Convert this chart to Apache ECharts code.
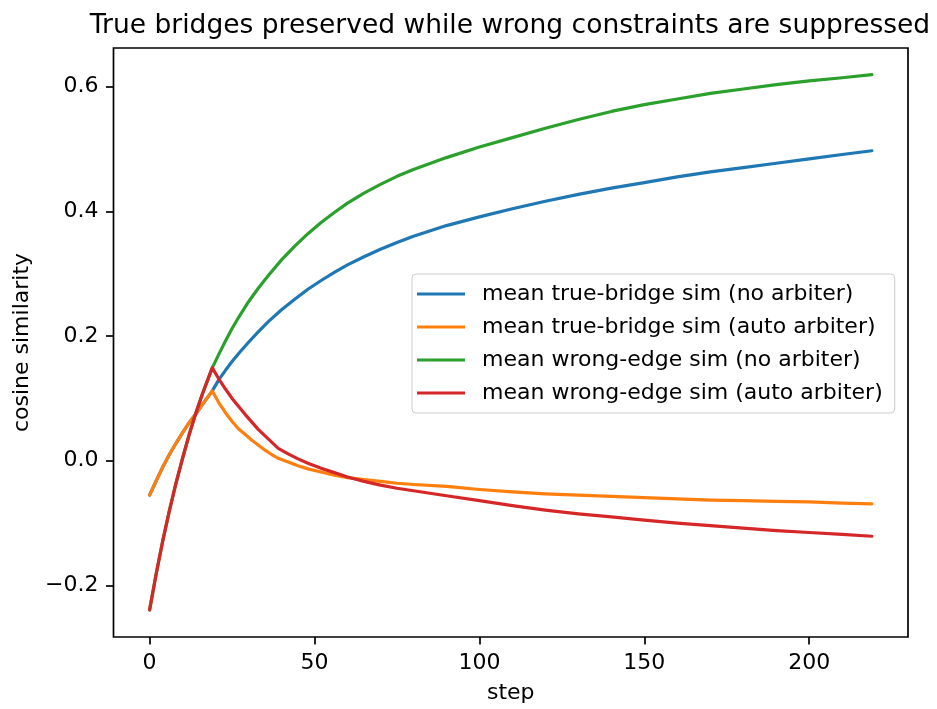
<!DOCTYPE html>
<html>
<head>
<meta charset="utf-8">
<script src="https://cdn.jsdelivr.net/npm/echarts@6/dist/echarts.min.js"></script>
<style>
  html, body { margin: 0; padding: 0; background: #fff; }
  #chart { width: 937px; height: 709px; }
</style>
</head>
<body>
<div id="chart"></div>
<script>
// Steps at which each curve is sampled
const risingSteps = [0, 2, 4, 6, 8, 10, 12, 14, 16, 19, 21, 23, 25, 27, 30, 33, 36, 40, 44, 48, 52, 56,
  60, 65, 70, 75, 80, 90, 100, 110, 120, 130, 140, 150, 160, 170, 180, 190, 200, 210, 219];
const arbiterSteps = [0, 2, 4, 6, 8, 10, 12, 14, 16, 19, 21, 23, 25, 27, 29, 31, 33, 35, 37, 39,
  42, 45, 48, 52, 56, 60, 65, 70, 75, 80, 90, 100, 110, 120, 130, 140, 150, 160, 170, 180, 190, 200, 210, 219];

// Cosine similarity per run
const trueBridgeNoArbiter = [-0.055, -0.032, -0.010, 0.010, 0.028, 0.045, 0.061, 0.075, 0.090, 0.112,
  0.130, 0.145, 0.159, 0.172, 0.190, 0.207, 0.223, 0.242, 0.259, 0.275, 0.289, 0.302,
  0.314, 0.327, 0.339, 0.350, 0.360, 0.377, 0.391, 0.404, 0.416, 0.427, 0.437, 0.446,
  0.455, 0.463, 0.470, 0.477, 0.484, 0.491, 0.497];
const wrongEdgeNoArbiter = [-0.239, -0.181, -0.128, -0.080, -0.036, 0.004, 0.042, 0.076, 0.107, 0.149,
  0.171, 0.192, 0.212, 0.230, 0.255, 0.277, 0.297, 0.322, 0.344, 0.364, 0.382, 0.398,
  0.413, 0.429, 0.443, 0.456, 0.467, 0.486, 0.503, 0.518, 0.533, 0.547, 0.560, 0.571,
  0.580, 0.589, 0.596, 0.603, 0.609, 0.614, 0.619];
const trueBridgeAuto = [-0.055, -0.032, -0.010, 0.010, 0.028, 0.045, 0.061, 0.075, 0.090, 0.112,
  0.093, 0.077, 0.063, 0.051, 0.042, 0.033, 0.025, 0.017, 0.010, 0.004,
  -0.002, -0.008, -0.013, -0.018, -0.023, -0.027, -0.030, -0.033, -0.036, -0.038,
  -0.041, -0.046, -0.050, -0.053, -0.055, -0.057, -0.059, -0.061, -0.063, -0.064,
  -0.065, -0.066, -0.068, -0.069];
const wrongEdgeAuto = [-0.239, -0.181, -0.128, -0.080, -0.036, 0.004, 0.042, 0.076, 0.107, 0.149,
  0.131, 0.115, 0.100, 0.087, 0.074, 0.062, 0.050, 0.040, 0.030, 0.020,
  0.011, 0.003, -0.004, -0.012, -0.019, -0.026, -0.033, -0.039, -0.044, -0.048,
  -0.056, -0.064, -0.072, -0.079, -0.085, -0.090, -0.095, -0.100, -0.104, -0.108,
  -0.112, -0.115, -0.118, -0.121];

const seriesNames = [
  'mean true-bridge sim (no arbiter)',
  'mean true-bridge sim (auto arbiter)',
  'mean wrong-edge sim (no arbiter)',
  'mean wrong-edge sim (auto arbiter)'
];
const seriesColors = ['#1f77b4', '#ff7f0e', '#2ca02c', '#d62728'];
const xTicks = [0, 50, 100, 150, 200];
const yTicks = [-0.2, 0.0, 0.2, 0.4, 0.6];

const pairs = (xs, ys) => xs.map((x, i) => [x, ys[i]]);
const seriesData = [
  pairs(risingSteps, trueBridgeNoArbiter),
  pairs(arbiterSteps, trueBridgeAuto),
  pairs(risingSteps, wrongEdgeNoArbiter),
  pairs(arbiterSteps, wrongEdgeAuto)
];

const FONT = 'DejaVu Sans';
const chart = echarts.init(document.getElementById('chart'), null, { renderer: 'canvas' });

const tickStyle = { color: '#000', width: 1.7 };

chart.setOption({
  animation: false,
  backgroundColor: '#ffffff',
  textStyle: { fontFamily: FONT },
  title: {
    text: 'True bridges preserved while wrong constraints are suppressed',
    left: 505, top: 8,
    textAlign: 'center',
    textStyle: { fontFamily: FONT, fontSize: 26.5, fontWeight: 'normal', color: '#000' }
  },
  grid: {
    left: 113.5, right: 29, top: 48, bottom: 69,
    show: true, borderColor: '#000', borderWidth: 1.7, backgroundColor: 'transparent'
  },
  legend: {
    orient: 'vertical',
    left: 412, top: 274,
    data: seriesNames,
    icon: 'rect',
    itemWidth: 48, itemHeight: 3,
    itemGap: 11,
    padding: [9, 12, 9, 5],
    backgroundColor: 'rgba(255,255,255,0.8)',
    borderColor: '#cccccc', borderWidth: 1, borderRadius: 4,
    textStyle: { fontFamily: FONT, fontSize: 22, color: '#000', padding: [0, 0, 0, 12] }
  },
  xAxis: {
    type: 'value',
    min: -10.95, max: 229.95,
    name: 'step', nameLocation: 'middle', nameGap: 45,
    nameTextStyle: { fontFamily: FONT, fontSize: 22, color: '#000' },
    axisLine: { show: false, onZero: false },
    splitLine: { show: false },
    axisTick: { show: true, inside: false, length: 7.5, customValues: xTicks, lineStyle: tickStyle },
    axisLabel: { margin: 15, customValues: xTicks, fontFamily: FONT, fontSize: 22, color: '#000',
      formatter: v => String(Math.round(v)) }
  },
  yAxis: {
    type: 'value',
    min: -0.2825, max: 0.6617,
    name: 'cosine similarity', nameLocation: 'middle', nameGap: 80,
    nameTextStyle: { fontFamily: FONT, fontSize: 22, color: '#000' },
    axisLine: { show: false, onZero: false },
    splitLine: { show: false },
    axisTick: { show: true, inside: false, length: 7.5, customValues: yTicks, lineStyle: tickStyle },
    axisLabel: { margin: 15, customValues: yTicks, fontFamily: FONT, fontSize: 22, color: '#000',
      formatter: v => v.toFixed(1).replace('-', '\u2212') }
  },
  series: seriesNames.map((name, i) => ({
    name,
    type: 'line',
    data: seriesData[i],
    showSymbol: false,
    smooth: false,
    color: seriesColors[i],
    lineStyle: { color: seriesColors[i], width: 3.2, join: 'round', cap: 'round' },
    z: 2 + i
  }))
});
</script>
</body>
</html>
